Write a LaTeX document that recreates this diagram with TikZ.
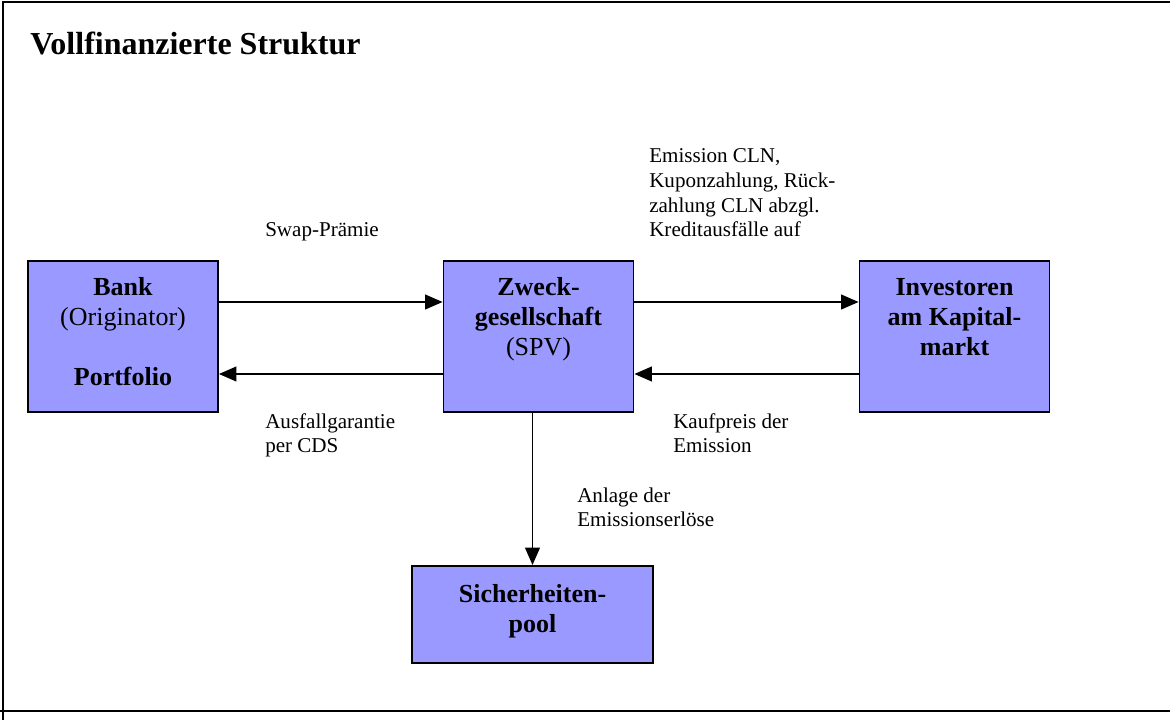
\documentclass[tikz,border=0pt]{standalone}
\usepackage{fontspec}
\setmainfont{Liberation Serif}
\usetikzlibrary{arrows.meta,calc}

\definecolor{boxfill}{RGB}{153,153,255}

\tikzset{
  px/.style={x=0.75pt,y=-0.75pt},
  frameline/.style={line width=2.1pt,black},
  entity/.style={draw=black,line width=1.4pt,fill=boxfill,inner sep=0pt,
                 minimum width=142.5pt,minimum height=113.25pt},
  entitytext/.style={anchor=base,inner sep=0pt,
                 font=\fontsize{19.5pt}{22.5pt}\selectfont},
  flowlabel/.style={anchor=base west,inner sep=0pt,
                 font=\fontsize{15.8pt}{18.4pt}\selectfont},
  flow/.style={line width=1.3pt,-{Triangle[length=13pt,width=11pt]}},
}

\newcommand{\cstack}[1]{\begin{tabular}[t]{@{}c@{}}#1\end{tabular}}
\newcommand{\lstack}[1]{\begin{tabular}[t]{@{}l@{}}#1\end{tabular}}

\begin{document}
\begin{tikzpicture}[px]
  \useasboundingbox (0,0) rectangle (1170,720);

  % outer frame
  \draw[frameline] (3,720) -- (3,2) -- (1170,2);
  \draw[frameline] (0,711) -- (1170,711);

  % heading
  \node[anchor=base west,inner sep=0pt,font=\fontsize{24pt}{28pt}\selectfont\bfseries]
    (title) at (30,55) {Vollfinanzierte Struktur};

  % parties
  \node[entity] (bank) at (123,336.5) {};
  \node[entity] (spv)  at (538.5,336.5) {};
  \node[entity] (inv)  at (954.5,336.5) {};
  \node[entity,minimum width=180.75pt,minimum height=72.75pt] (pool) at (532.5,614.5) {};

  \node[entitytext] (banktext) at (123,295)
    {\cstack{\textbf{Bank}\\(Originator)\\ \\\textbf{Portfolio}}};
  \node[entitytext] (spvtext) at (538.5,295)
    {\cstack{\textbf{Zweck-}\\\textbf{gesellschaft}\\(SPV)}};
  \node[entitytext] (invtext) at (954.5,295)
    {\cstack{\textbf{Investoren}\\\textbf{am Kapital-}\\\textbf{markt}}};
  \node[entitytext] (pooltext) at (532.5,602)
    {\cstack{\textbf{Sicherheiten-}\\\textbf{pool}}};

  % flows
  \draw[flow] ($(bank.east)+(0,-34.5)$) -- ($(spv.west)+(0,-34.5)$);
  \draw[flow] ($(spv.west)+(0,37.5)$) -- ($(bank.east)+(0,37.5)$);
  \draw[flow] ($(spv.east)+(0,-34.5)$) -- ($(inv.west)+(0,-34.5)$);
  \draw[flow] ($(inv.west)+(0,37.5)$) -- ($(spv.east)+(0,37.5)$);
  \draw[flow] (pool.north |- spv.south) -- (pool.north);

  % flow labels
  \node[flowlabel] (swap) at (265,237) {Swap-Prämie};
  \node[flowlabel] (cds) at (265,428) {\lstack{Ausfallgarantie\\per CDS}};
  \node[flowlabel] (cln) at (649,163)
    {\lstack{Emission CLN,\\Kuponzahlung, Rück-\\zahlung CLN abzgl.\\Kreditausfälle auf}};
  \node[flowlabel] (price) at (673,428) {\lstack{Kaufpreis der\\Emission}};
  \node[flowlabel] (invest) at (577,502) {\lstack{Anlage der\\Emissionserlöse}};
\end{tikzpicture}
\end{document}
